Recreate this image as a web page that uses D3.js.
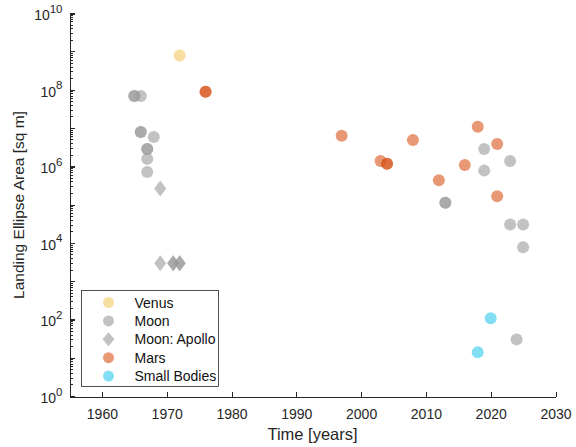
<!DOCTYPE html>
<html>
<head>
<meta charset="utf-8">
<script src="https://cdn.jsdelivr.net/npm/d3@7"></script>
<style>
  body { margin: 0; background: #fff; }
  svg { font-family: "Liberation Sans", Arial, sans-serif; }
  .tick text { fill: #262626; font-size: 14px; }
  .lbl { fill: #262626; font-size: 16.5px; }
</style>
</head>
<body>
<svg width="576" height="447"></svg>
<script>
// data
var venusYear = [1972], venusArea = [8e8];
var moonYear = [1965, 1965, 1966, 1966, 1966, 1968, 1967, 1967, 1967, 1967,
                2013, 2013, 2019, 2019, 2023, 2023, 2025, 2025, 2024];
var moonArea = [7e7, 7e7, 7e7, 8e6, 8e6, 6e6, 2.9e6, 2.9e6, 1.6e6, 7.3e5,
                1.15e5, 1.15e5, 2.9e6, 7.9e5, 1.4e6, 3.1e4, 3.1e4, 7.9e3, 31];
var apolloYear = [1969, 1969, 1971, 1971, 1972, 1972];
var apolloArea = [2.7e5, 3e3, 3e3, 3e3, 3e3, 3e3];
var marsYear = [1976, 1976, 1997, 2003, 2004, 2004, 2008, 2012, 2016, 2018, 2021, 2021];
var marsArea = [9e7, 9e7, 6.4e6, 1.4e6, 1.2e6, 1.2e6, 5e6, 4.4e5, 1.1e6, 1.1e7, 3.9e6, 1.7e5];
var smallYear = [2020, 2018];
var smallArea = [111, 14.4];

(function() {
var series = [
  {name: 'Venus', x: venusYear, y: venusArea, color: '#EDB120', op: 0.42, shape: 'circle'},
  {name: 'Moon', x: moonYear, y: moonArea, color: '#9a9a9a', op: 0.6, shape: 'circle'},
  {name: 'Moon: Apollo', x: apolloYear, y: apolloArea, color: '#9a9a9a', op: 0.6, shape: 'diamond'},
  {name: 'Mars', x: marsYear, y: marsArea, color: '#D95319', op: 0.6, shape: 'circle'},
  {name: 'Small Bodies', x: smallYear, y: smallArea, color: '#4DD2EE', op: 0.7, shape: 'circle'}
];

var svg = d3.select('svg');
var mL = 69.5, mR = 555.5, mT = 13.5, mB = 396.5;

var x = d3.scaleLinear().domain([1955, 2030]).range([mL, mR]);
var y = d3.scaleLog().domain([1, 1e10]).range([mB, mT]);

// x axis
var xAxis = svg.append('g').attr('transform', 'translate(0,' + mB + ')')
  .call(d3.axisBottom(x).tickValues(d3.range(1960, 2031, 10)).tickFormat(d3.format('d'))
    .tickSizeInner(-5).tickSizeOuter(0).tickPadding(12.5));
xAxis.select('.domain').attr('stroke', '#262626').attr('shape-rendering', 'crispEdges');
xAxis.selectAll('line').attr('stroke', '#262626').attr('shape-rendering', 'crispEdges');

// y axis, majors every 2 decades, minor ticks inside
var majors = [1, 1e2, 1e4, 1e6, 1e8, 1e10];
var minors = [];
for (var d = 0; d < 10; d++) for (var k = 2; k <= 9; k++) minors.push(k * Math.pow(10, d));
var decades = d3.range(0, 11).map(function(p) { return Math.pow(10, p); });

var yAxis = svg.append('g').attr('transform', 'translate(' + mL + ',0)')
  .call(d3.axisLeft(y).tickValues(majors).tickSizeInner(-5).tickSizeOuter(0).tickFormat(''));
yAxis.select('.domain').attr('stroke', '#262626').attr('shape-rendering', 'crispEdges');
yAxis.selectAll('line').attr('stroke', '#262626').attr('shape-rendering', 'crispEdges');

var ticks = svg.append('g').attr('stroke', '#262626').attr('shape-rendering', 'crispEdges');
ticks.selectAll('line.minor').data(minors.concat(decades)).enter().append('line')
  .attr('x1', mL).attr('x2', function(v) { return mL + (Math.log10(v) % 1 === 0 ? 5 : 3); })
  .attr('y1', function(v) { return y(v); }).attr('y2', function(v) { return y(v); });

var ylab = svg.append('g');
majors.forEach(function(v) {
  var t = ylab.append('text').attr('x', mL - 7).attr('y', y(v) + 6.5)
    .attr('text-anchor', 'end').attr('fill', '#262626').attr('font-size', 14);
  t.append('tspan').text('10');
  t.append('tspan').attr('dy', -7.5).attr('font-size', 11.5).text(Math.round(Math.log10(v)));
});

// axis labels
svg.append('text').attr('class', 'lbl').attr('x', (mL + mR) / 2).attr('y', 440)
  .attr('text-anchor', 'middle').text('Time [years]');
svg.append('text').attr('class', 'lbl').style('font-size', '15.5px')
  .attr('transform', 'translate(23.5,205) rotate(-90)')
  .attr('text-anchor', 'middle').text('Landing Ellipse Area [sq m]');

// marks
var diamond = function(cx, cy, h) {
  return 'M' + cx + ',' + (cy - h) + 'L' + (cx + 6) + ',' + cy + 'L' + cx + ',' + (cy + h) + 'L' + (cx - 6) + ',' + cy + 'Z';
};
series.forEach(function(s) {
  var pts = s.x.map(function(v, i) { return [v, s.y[i]]; });
  var g = svg.append('g');
  if (s.shape === 'circle') {
    g.selectAll('circle').data(pts).enter().append('circle')
      .attr('cx', function(p) { return x(p[0]); }).attr('cy', function(p) { return y(p[1]); })
      .attr('r', 6).attr('fill', s.color).attr('fill-opacity', s.op);
  } else {
    g.selectAll('path').data(pts).enter().append('path')
      .attr('d', function(p) { return diamond(x(p[0]), y(p[1]), 8); })
      .attr('fill', s.color).attr('fill-opacity', s.op);
  }
});

// legend
var lg = svg.append('g').attr('transform', 'translate(81.5,290.5)');
lg.append('rect').attr('width', 137).attr('height', 96).attr('fill', '#fff')
  .attr('stroke', '#262626').attr('stroke-width', 0.8);
series.forEach(function(s, i) {
  var cy = 12 + i * 18.4;
  if (s.shape === 'circle') {
    lg.append('circle').attr('cx', 27).attr('cy', cy).attr('r', 5.5)
      .attr('fill', s.color).attr('fill-opacity', s.op);
  } else {
    lg.append('path').attr('d', diamond(27, cy, 7))
      .attr('fill', s.color).attr('fill-opacity', s.op);
  }
  lg.append('text').attr('x', 53).attr('y', cy + 5).attr('font-size', 14)
    .attr('fill', '#111').text(s.name);
});
})();
</script>
</body>
</html>
